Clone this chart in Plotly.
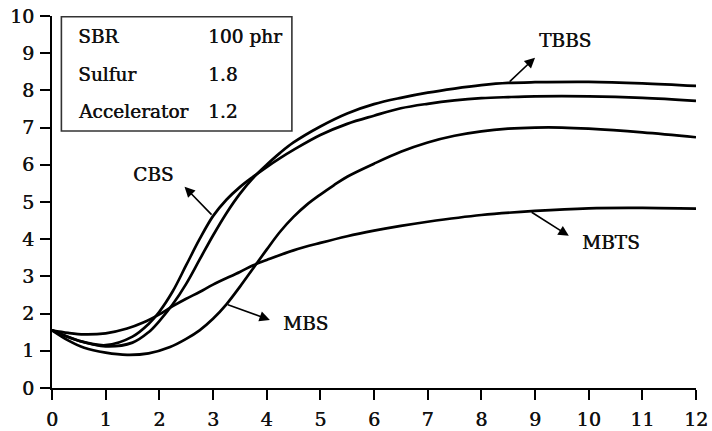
import numpy as np
import plotly.graph_objects as go

# Cure time (x) and torque (y) readings for each accelerator system
tbbs_x = [0, 0.5, 1.0, 1.5, 1.8, 2.0, 2.25, 2.5, 2.75, 3.0, 3.25, 3.5, 3.75, 4.0, 4.25, 4.5,
          5.0, 5.5, 6.0, 6.5, 7.0, 7.5, 8.0, 8.5, 9.0, 10.0, 11.0, 12.0]
tbbs_y = [1.55, 1.27, 1.12, 1.22, 1.5, 1.8, 2.25, 2.8, 3.45, 4.1, 4.7, 5.22, 5.65, 6.0, 6.32, 6.6,
          7.03, 7.38, 7.63, 7.8, 7.94, 8.05, 8.14, 8.2, 8.22, 8.23, 8.19, 8.12]

cbs_x = [0, 0.5, 1.0, 1.5, 1.8, 2.0, 2.25, 2.5, 2.75, 3.0, 3.25, 3.5, 3.75, 4.0, 4.25, 4.5,
         5.0, 5.5, 6.0, 6.5, 7.0, 7.5, 8.0, 8.5, 9.0, 10.0, 11.0, 12.0]
cbs_y = [1.55, 1.27, 1.15, 1.38, 1.72, 2.05, 2.6, 3.3, 4.0, 4.62, 5.06, 5.4, 5.68, 5.94, 6.18, 6.4,
         6.8, 7.1, 7.32, 7.52, 7.64, 7.73, 7.79, 7.82, 7.84, 7.84, 7.8, 7.72]

mbs_x = [0, 0.3, 0.6, 1.0, 1.4, 1.8, 2.2, 2.5, 2.75, 3.0, 3.25, 3.5, 3.75, 4.0, 4.25, 4.5, 4.75,
         5.0, 5.25, 5.5, 6.0, 6.5, 7.0, 7.5, 8.0, 8.5, 9.0, 9.5, 10.0, 11.0, 12.0]
mbs_y = [1.55, 1.28, 1.08, 0.95, 0.89, 0.93, 1.1, 1.32, 1.55, 1.86, 2.25, 2.72, 3.22, 3.72, 4.2, 4.6, 4.93,
         5.2, 5.45, 5.68, 6.03, 6.35, 6.6, 6.78, 6.9, 6.97, 7.0, 7.0, 6.97, 6.87, 6.74]

mbts_x = [0, 0.3, 0.6, 1.0, 1.4, 1.7, 2.0, 2.25, 2.5, 2.75, 3.0, 3.5, 3.75, 4.0, 4.5, 5.0, 5.5,
          6.0, 6.5, 7.0, 8.0, 9.0, 10.0, 11.0, 12.0]
mbts_y = [1.55, 1.48, 1.44, 1.47, 1.6, 1.76, 1.98, 2.2, 2.4, 2.58, 2.78, 3.12, 3.3, 3.44, 3.7, 3.9, 4.08,
          4.23, 4.36, 4.47, 4.65, 4.76, 4.83, 4.84, 4.82]

x_ticks = list(range(0, 13))
y_ticks = list(range(0, 11))

recipe_names = ["SBR", "Sulfur", "Accelerator"]
recipe_values = ["100 phr", "1.8", "1.2"]

# Semi-bold look: regular serif face with a hairline offset shadow
SEMIBOLD = "0.5px 0px 0px #111111"
TEXT_FONT = dict(family="DejaVu Serif", size=18.5, color="#111111", shadow=SEMIBOLD)
TICK_FONT = dict(family="DejaVu Serif", size=19, color="#111111", shadow=SEMIBOLD)

fig = go.Figure()

for xs, ys, name in [(tbbs_x, tbbs_y, "TBBS"), (cbs_x, cbs_y, "CBS"),
                     (mbs_x, mbs_y, "MBS"), (mbts_x, mbts_y, "MBTS")]:
    fig.add_trace(go.Scatter(x=xs, y=ys, mode="lines", name=name,
                             line=dict(color="black", width=2.7, shape="spline", smoothing=1.0),
                             showlegend=False, hoverinfo="skip"))

# Curve labels: arrow starts on the curve and points towards the label
labels = [
    # name, curve x, curve xs, curve ys, head (x, y), text (x, y)
    ("TBBS", 8.5, tbbs_x, tbbs_y, (9.0, 8.88), (9.56, 9.33)),
    ("CBS", 3.0, cbs_x, cbs_y, (2.47, 5.41), (1.88, 5.75)),
    ("MBS", 3.25, mbs_x, mbs_y, (4.06, 1.83), (4.72, 1.73)),
    ("MBTS", 8.91, mbts_x, mbts_y, (9.63, 4.09), (10.41, 3.92)),
]
for name, cx, xs, ys, head, pos in labels:
    cy = float(np.interp(cx, xs, ys))
    fig.add_annotation(x=head[0], y=head[1], ax=cx, ay=cy, axref="x", ayref="y",
                       xref="x", yref="y", text="", showarrow=True,
                       arrowhead=2, arrowsize=1.3, arrowwidth=1.6, arrowcolor="black",
                       standoff=0, startstandoff=0)
    fig.add_annotation(x=pos[0], y=pos[1], xref="x", yref="y", text=name, showarrow=False,
                       font=TEXT_FONT, xanchor="center", yanchor="middle")

# Recipe box
fig.add_shape(type="rect", xref="x", yref="y", x0=0.175, x1=4.47, y0=6.91, y1=9.98,
              line=dict(color="#333333", width=1.6), fillcolor="white", layer="above")
row_y = [9.44, 8.43, 7.44]
for name, val, ry in zip(recipe_names, recipe_values, row_y):
    fig.add_annotation(x=0.44, y=ry, xref="x", yref="y", text=name, showarrow=False,
                       xanchor="left", yanchor="middle", font=TEXT_FONT)
    fig.add_annotation(x=2.87, y=ry, xref="x", yref="y", text=val, showarrow=False,
                       xanchor="left", yanchor="middle", font=TEXT_FONT)

axis_common = dict(showgrid=False, zeroline=False, showline=True, linecolor="black", linewidth=2,
                   ticks="outside", ticklen=10, tickwidth=2, tickcolor="black",
                   tickfont=TICK_FONT, automargin=False)
fig.update_xaxes(range=[0, 12], tickvals=x_ticks, ticktext=[str(v) for v in x_ticks],
                 ticklabelstandoff=3, **axis_common)
fig.update_yaxes(range=[0, 10], tickvals=y_ticks, ticktext=[str(v) for v in y_ticks],
                 ticklabelstandoff=2, **axis_common)

fig.update_layout(width=712, height=431, margin=dict(l=52, r=16, t=16, b=43),
                  plot_bgcolor="white", paper_bgcolor="white")

fig.write_html("out.html")
